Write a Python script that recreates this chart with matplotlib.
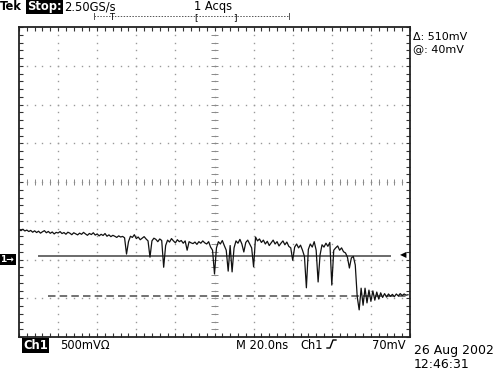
import numpy as np
import matplotlib.pyplot as plt
import matplotlib.transforms as mtransforms
from matplotlib.lines import Line2D

# Ch1 record, one sample per ns, values in mV
ch1_mv = [
    385, 372, 390, 368, 380, 361, 375, 352, 370, 348,
    365, 340, 358, 372, 345, 362, 338, 355, 330, 350,
    342, 360, 335, 348, 326, 352, 340, 320, 345, 332,
    318, 340, 325, 350, 330, 312, 336, 322, 345, 315,
    330, 305, 325, 310, 335, 300, 318, 295, 312, 300,
    285, 305, 290, 298, 280,
    70,
    230, 300, 285, 320, 270, 290, 255, 275, 295, 265, 240,
    30,
    240, 275, 260, 230, 265, 245,
    -100,
    180, 250, 225, 270, 240, 215, 255, 230, 245, 210, 240, 120, 230, 215,
    205, 225, 195, 230, 210, 240, 215, 200, 230, 160,
    120, -187, 150, 230, 200, 245, 180, 120, -150, 180, -160, 150, 240, 210,
    260, 200, 97, 220, 250, 200, 150, -95, 290,
    240, 265, 220, 250, 200, 235, 180, 215, 250, 200, 230, 175, 210, 240,
    190, 225, 170, 150,
    -10,
    160, 200, 150, 185, 120, 40,
    -365,
    130, 200, 160, 230, 120,
    -290,
    60, 190, 160, 210, 170, 220,
    -330,
    120, 150, 175, 120, 150, 100, 85, 30, -110, 20, 40, -70,
    -480, -650, -370, -590, -370, -560, -395, -540, -405, -525, -420, -510,
    -430, -490, -440, -485, -445, -475, -450, -480, -445, -470, -440, -465,
    -445, -460, -455,
]
sample_ns = 1.0

# scope settings
ns_per_div = 20
mv_per_div = 500
ch1_position_div = -2
cursor_a_mv = 40
cursor_b_mv = -470
trigger_mv = 70

top_labels = ["Tek", "Stop:", "2.50GS/s", "1 Acqs"]
cursor_labels = ["\u0394: 510mV", "@: 40mV"]
bottom_labels = ["Ch1", "500mV\u03a9", "M 20.0ns", "Ch1", "70mV"]
date_labels = ["26 Aug 2002", "12:46:31"]

W, H = 500, 375
fig = plt.figure(figsize=(W / 100, H / 100), dpi=100)
fig.patch.set_facecolor("white")
ax = fig.add_axes([19 / W, 1 - 337 / H, 391 / W, 310 / H])

t_max = 10 * ns_per_div
v_lo = (-4 - ch1_position_div) * mv_per_div
v_hi = (4 - ch1_position_div) * mv_per_div
ax.set_xlim(0, t_max)
ax.set_ylim(v_lo, v_hi)

# graticule
sub_t = np.arange(0, t_max + 0.01, ns_per_div / 5)
sub_v = np.arange(v_lo, v_hi + 0.01, mv_per_div / 5)
t_mid = t_max / 2
v_mid = (v_lo + v_hi) / 2
dot = dict(linestyle="none", marker="s", markersize=1.0, color="#9a9a9a",
           markeredgewidth=0)
for i in range(1, 10):
    tx = i * ns_per_div
    ax.plot(np.full(len(sub_v), tx), sub_v, **dot)
for j in range(1, 8):
    vy = v_lo + j * mv_per_div
    ax.plot(sub_t, np.full(len(sub_t), vy), **dot)
ax.hlines(sub_v, t_mid - 0.08 * ns_per_div, t_mid + 0.08 * ns_per_div,
          color="#8a8a8a", lw=0.7)
ax.vlines(sub_t, v_mid - 0.08 * mv_per_div, v_mid + 0.08 * mv_per_div,
          color="#8a8a8a", lw=0.7)

ax.set_xticks(sub_t)
ax.set_yticks(sub_v)
ax.tick_params(direction="in", length=3, width=0.8, color="#333333",
               top=True, right=True, labelbottom=False, labelleft=False)
for s in ax.spines.values():
    s.set_linewidth(1.3)
    s.set_color("#222222")

# cursors
ax.plot([0.05 * t_max, 0.95 * t_max], [cursor_a_mv, cursor_a_mv],
        color="#6a6a6a", lw=1.4)
ax.plot([0.075 * t_max, t_max], [cursor_b_mv, cursor_b_mv],
        color="#5a5a5a", lw=1.2, linestyle=(0, (4.5, 2.5)))

# trace
t_ns = np.arange(len(ch1_mv)) * sample_ns
ax.plot(t_ns, ch1_mv, color="#111111", lw=0.9)

# markers: ground level and trigger level
blend = mtransforms.blended_transform_factory(fig.transFigure, ax.transData)
ax.text(0.001, 0, "1\u2192", transform=blend, fontsize=6.5, fontweight="bold",
        color="white", va="center", ha="left",
        bbox=dict(boxstyle="square,pad=0.15", fc="black", ec="none"))
ax.text(0.975 * t_max, trigger_mv, "\u25c0", fontsize=6, color="black",
        va="center", ha="left")


def label(x, y, s, size=8.3, boxed=False, **kw):
    bbox = dict(boxstyle="square,pad=0.1", fc="black", ec="none") if boxed else None
    fig.text(x / W, 1 - y / H, s, fontsize=size, bbox=bbox,
             color="white" if boxed else "black", va="baseline", ha="left", **kw)


label(0, 10, top_labels[0], fontweight="bold")
label(27, 10, top_labels[1], boxed=True, fontweight="bold")
label(64, 10, top_labels[2])
label(194, 10, top_labels[3])

# record / trigger position bar
fig.add_artist(Line2D([94 / W, 289 / W], [1 - 16 / H, 1 - 16 / H],
                      color="#555555", lw=0.7, linestyle=(0, (1.5, 1.5))))
for xb in (94, 289):
    fig.add_artist(Line2D([xb / W, xb / W], [1 - 13 / H, 1 - 19 / H],
                          color="#555555", lw=0.7))
label(109, 20, "T", size=6)
label(194, 20, "[", size=6.5)
label(233, 20, "]", size=6.5)

label(413, 40, cursor_labels[0], size=8)
label(413, 52, cursor_labels[1], size=8)

label(23, 349, bottom_labels[0], boxed=True, fontweight="bold")
label(60, 349, bottom_labels[1])
label(236, 349, bottom_labels[2])
label(300, 349, bottom_labels[3])
fig.add_artist(Line2D(np.array([327, 330, 333, 336]) / W,
                      1 - np.array([348, 348, 340, 340]) / H,
                      color="black", lw=1.0))
label(372, 349, bottom_labels[4])

label(414, 354, date_labels[0], size=9)
label(414, 368, date_labels[1], size=9)

fig.savefig("out.png", dpi=100, facecolor="white")
